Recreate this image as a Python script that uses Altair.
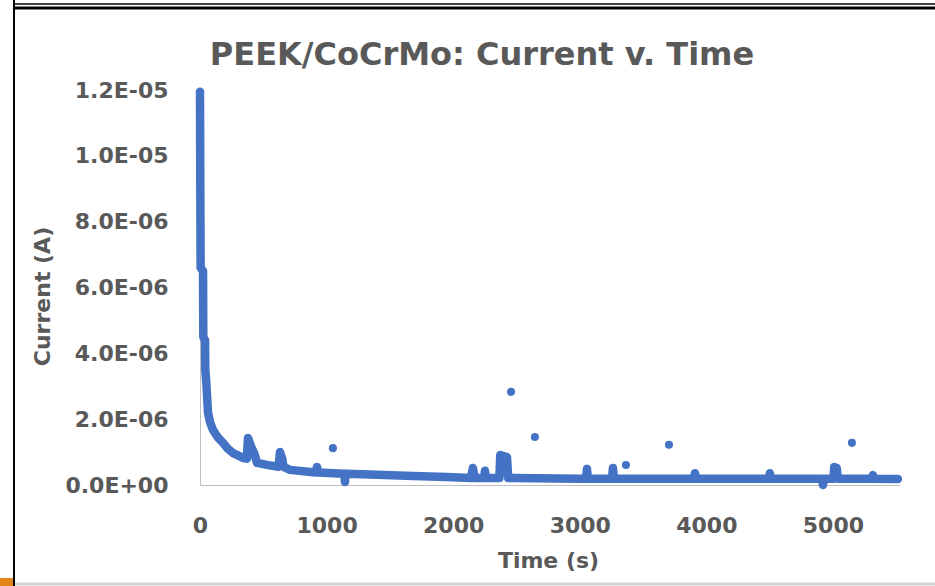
import altair as alt
import pandas as pd

# ---- data ----
curve_t = [0, 2, 5, 24, 26, 40, 42, 50, 63, 80, 103, 140, 182, 220, 261, 300, 340, 370,
           379, 400, 430, 450, 529, 620, 632, 650, 660, 711, 893, 915, 924, 935, 1050,
           1140, 1145, 1150, 1288, 1682, 1951, 2140, 2156, 2170, 2245, 2251, 2260, 2365,
           2372, 2425, 2435, 2472, 3002, 3050, 3057, 3065, 3255, 3262, 3270, 3900, 3910,
           3920, 4495, 4502, 4510, 4915, 4921, 4930, 5005, 5010, 5030, 5040, 5310, 5316,
           5322, 5513]
curve_i = [1.195e-5, 9.5e-6, 6.6e-6, 6.5e-6, 4.5e-6, 4.4e-6, 3.5e-6, 3.1e-6, 2.2e-6, 1.9e-6,
           1.67e-6, 1.45e-6, 1.28e-6, 1.1e-6, 0.97e-6, 0.9e-6, 0.82e-6, 0.80e-6,
           1.43e-6, 1.2e-6, 0.95e-6, 0.67e-6, 0.61e-6, 0.55e-6, 1.0e-6, 0.8e-6, 0.55e-6,
           0.46e-6, 0.39e-6, 0.38e-6, 0.55e-6, 0.38e-6, 0.36e-6,
           0.34e-6, 0.09e-6, 0.34e-6, 0.33e-6, 0.27e-6, 0.24e-6, 0.21e-6, 0.52e-6, 0.21e-6,
           0.21e-6, 0.43e-6, 0.21e-6, 0.21e-6,
           0.91e-6, 0.85e-6, 0.21e-6, 0.21e-6, 0.19e-6, 0.19e-6, 0.49e-6, 0.19e-6, 0.19e-6,
           0.52e-6, 0.19e-6, 0.19e-6, 0.36e-6,
           0.19e-6, 0.19e-6, 0.36e-6, 0.19e-6, 0.19e-6, 0.0, 0.19e-6, 0.19e-6, 0.55e-6,
           0.52e-6, 0.19e-6, 0.19e-6, 0.3e-6,
           0.19e-6, 0.18e-6]

outlier_t = [1050, 2457, 2646, 3365, 3705, 5150]
outlier_i = [1.12e-6, 2.83e-6, 1.46e-6, 0.61e-6, 1.22e-6, 1.28e-6]

x_ticks = [0, 1000, 2000, 3000, 4000, 5000]
y_ticks = [0, 2e-6, 4e-6, 6e-6, 8e-6, 1.0e-5, 1.2e-5]

title_text = ["PEEK/CoCrMo: Current v. Time"]
x_title = "Time (s)"
y_title = "Current (A)"

BLUE = "#4472C4"
GREY = "#595959"
FONT = "DejaVu Sans"

curve = pd.DataFrame({"t": curve_t, "i": curve_i, "k": list(range(len(curve_t)))})
outliers = pd.DataFrame({"t": outlier_t, "i": outlier_i})

x_enc = alt.X(
    "t:Q",
    scale=alt.Scale(domain=[0, 5530], nice=False, zero=True),
    axis=alt.Axis(values=x_ticks, title=x_title, labelPadding=40, labelBaseline="middle",
                  labelFlush=False,
                  titleX=348, titleY=75, titleBaseline="middle", titleAlign="center",
                  format="d"),
)
y_enc = alt.Y(
    "i:Q",
    scale=alt.Scale(domain=[0, 1.2e-5], nice=False, zero=True),
    axis=alt.Axis(values=y_ticks, title=y_title, labelPadding=32, labelFlush=False,
                  labelExpr="replace(replace(format(datum.value, '.1e'), 'e-', 'E-0'), 'e+', 'E+0')",
                  titleX=-158, titleY=206, titleAngle=270, titleBaseline="middle",
                  titleAlign="center"),
)

line = alt.Chart(curve).mark_line(
    color=BLUE, strokeWidth=8.5, strokeCap="round", strokeJoin="round"
).encode(x=x_enc, y=y_enc, order="k:Q")

pts = alt.Chart(outliers).mark_circle(color=BLUE, size=65, opacity=1).encode(x=x_enc, y=y_enc)

title = alt.Chart(pd.DataFrame({"title": title_text})).mark_text(
    font=FONT, fontWeight="bold", fontSize=32, color=GREY, align="center",
    baseline="alphabetic"
).encode(x=alt.value(282), y=alt.value(-25), text="title:N")

one = pd.DataFrame({"d": [0]})
frame_top_thin = alt.Chart(one).mark_rule(color="black", strokeWidth=1.5).encode(
    x=alt.value(-186), x2=alt.value(735), y=alt.value(-86))
frame_top_thick = alt.Chart(one).mark_rule(color="black", strokeWidth=3).encode(
    x=alt.value(-186), x2=alt.value(735), y=alt.value(-82))
frame_left = alt.Chart(one).mark_rule(color="black", strokeWidth=2).encode(
    x=alt.value(-186), y=alt.value(-90), y2=alt.value(496))
frame_bottom = alt.Chart(one).mark_rule(color="#d4d4d4", strokeWidth=3).encode(
    x=alt.value(-185), x2=alt.value(735), y=alt.value(494))
orange = alt.Chart(one).mark_rect(color="#E3861A").encode(
    x=alt.value(-200), x2=alt.value(-187), y=alt.value(488), y2=alt.value(496))

chart = alt.layer(
    line, pts, title, frame_top_thin, frame_top_thick, frame_left, frame_bottom, orange
).properties(
    width=700,
    height=395,
    autosize=alt.AutoSizeParams(type="none"),
    padding={"left": 200, "top": 90, "right": 35, "bottom": 101},
    background="white",
).configure_view(
    stroke=None
).configure_axis(
    domainColor="#bfbfbf", domainWidth=1, ticks=False, tickSize=0, grid=False,
    labelFont=FONT, labelFontWeight="bold", labelFontSize=22, labelColor=GREY,
    titleFont=FONT, titleFontWeight="bold", titleFontSize=22, titleColor=GREY,
)

chart.save("out.html", embed_options={"renderer": "svg", "actions": False})
